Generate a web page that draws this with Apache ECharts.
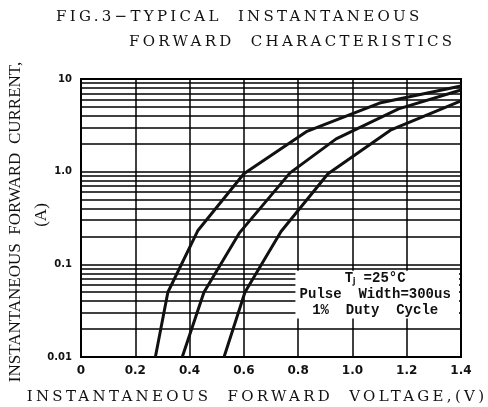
<!DOCTYPE html>
<html>
<head>
<meta charset="utf-8">
<script src="https://cdn.jsdelivr.net/npm/echarts@6/dist/echarts.min.js"></script>
<style>
  html, body { margin: 0; padding: 0; background: #fff; }
  #chart { width: 488px; height: 407px; }
</style>
</head>
<body>
<div id="chart"></div>
<script>
// curve data: [voltage (V), current (A)]
const curveA = [[0.274, 0.01], [0.32, 0.05], [0.43, 0.23], [0.6, 0.95], [0.83, 2.7], [1.1, 5.5], [1.4, 8.4]];
const curveB = [[0.373, 0.01], [0.453, 0.05], [0.583, 0.217], [0.77, 0.97], [0.94, 2.26], [1.17, 4.76], [1.4, 7.6]];
const curveC = [[0.527, 0.01], [0.604, 0.05], [0.737, 0.226], [0.91, 0.95], [1.14, 2.8], [1.4, 5.8]];

const xTickLabels = ['0', '0.2', '0.4', '0.6', '0.8', '1.0', '1.2', '1.4'];
const yTickValues = [0.01, 0.1, 1, 10];
const yTickLabels = ['0.01', '0.1', '1.0', '10'];
const decades = [0.01, 0.1, 1];
const minorSteps = [2, 3, 4, 5, 6, 7, 8, 9];
const yNameLines = ['INSTANTANEOUS  FORWARD  CURRENT,', '(A)'];
const noteLines = ['T\u2C7C =25\u00B0C', 'Pulse  Width=300us', '1%  Duty  Cycle'];

// the old figure uses widely spaced serif lettering for title and x name
function setSpacing(ctx, s) {
  const f = ctx.font;
  ctx.letterSpacing = s;
  ctx.font = '10px sans-serif';
  ctx.font = f;
}
const origFillText = CanvasRenderingContext2D.prototype.fillText;
CanvasRenderingContext2D.prototype.fillText = function (t, x, y, w) {
  const wide = this.font.indexOf('DejaVu Serif') >= 0;
  setSpacing(this, wide ? '3.3px' : '0px');
  origFillText.call(this, t, x, y, w);
  if (wide) setSpacing(this, '0px');
};

const chart = echarts.init(document.getElementById('chart'));

// minor horizontal grid lines at 2..9 of every decade
const minorLines = [];
decades.forEach(d => minorSteps.forEach(m => minorLines.push({ yAxis: +(d * m).toPrecision(3) })));

const curveStyle = { color: '#111', width: 3 };
function curve(data) {
  return { type: 'line', data: data, symbol: 'none', lineStyle: curveStyle, silent: true, z: 5 };
}

const titleFont = { fontFamily: 'DejaVu Serif', fontSize: 15, fontWeight: 'normal', color: '#111' };

const option = {
  animation: false,
  backgroundColor: '#fff',
  grid: {
    left: 81, right: 27, top: 79, bottom: 50, outerBoundsMode: 'none', containLabel: false,
    show: true, borderColor: '#000', borderWidth: 2
  },
  title: [
    { text: 'FIG.3\u2212TYPICAL  INSTANTANEOUS', left: 51, top: 5, textStyle: titleFont },
    { text: 'FORWARD  CHARACTERISTICS', left: 124, top: 30, textStyle: titleFont }
  ],
  xAxis: {
    type: 'value', min: 0, max: 1.4, interval: 0.2,
    axisLine: { lineStyle: { color: '#000', width: 2 } },
    axisTick: { show: false },
    splitLine: { show: true, lineStyle: { color: '#000', width: 1.5 } },
    axisLabel: {
      margin: 8, color: '#111', fontFamily: 'DejaVu Sans', fontWeight: 'bold', fontSize: 12,
      formatter: v => xTickLabels[Math.round(v / 0.2)]
    },
    name: 'INSTANTANEOUS  FORWARD  VOLTAGE,(V)', nameLocation: 'middle', nameGap: 33,
    nameTextStyle: { fontFamily: 'DejaVu Serif', fontSize: 15, color: '#111', padding: [0, 28, 0, 0] }
  },
  yAxis: {
    type: 'log', logBase: 10, min: 0.01, max: 10,
    axisLine: { show: true, lineStyle: { color: '#000', width: 2 } },
    axisTick: { show: false },
    splitLine: { show: true, lineStyle: { color: '#000', width: 1.5 } },
    minorSplitLine: { show: false },
    axisLabel: {
      margin: 9, color: '#111', fontFamily: 'DejaVu Sans', fontWeight: 'bold', fontSize: 10,
      formatter: v => {
        const i = yTickValues.findIndex(t => Math.abs(t - v) / t < 1e-6);
        return i >= 0 ? yTickLabels[i] : '';
      }
    }
  },
  series: [
    {
      type: 'line', data: [], silent: true,
      markLine: {
        silent: true, symbol: 'none', label: { show: false },
        lineStyle: { color: '#000', width: 1.5, type: 'solid' },
        data: minorLines
      }
    },
    curve(curveA),
    curve(curveB),
    curve(curveC)
  ]
};
chart.setOption(option);

const graphics = [];
// y axis title, two rotated lines left of the axis
graphics.push({
  type: 'text', x: 16, y: 222, rotation: Math.PI / 2,
  style: { text: yNameLines[0], fill: '#111', font: '17px "Liberation Serif"', textAlign: 'center', textVerticalAlign: 'middle' }
});
graphics.push({
  type: 'text', x: 42, y: 215, rotation: Math.PI / 2,
  style: { text: yNameLines[1], fill: '#111', font: '17px "Liberation Serif"', textAlign: 'center', textVerticalAlign: 'middle' }
});

// note box sitting inside the plot, lower right
const p0 = chart.convertToPixel({ gridIndex: 0 }, [0.79, 0.085]);
const p1 = chart.convertToPixel({ gridIndex: 0 }, [1.4, 0.026]);
const cx = (p0[0] + p1[0]) / 2;
graphics.push({ type: 'rect', shape: { x: p0[0], y: p0[1], width: p1[0] - p0[0] - 2, height: p1[1] - p0[1] },
  style: { fill: '#fff' }, z: 10 });
noteLines.forEach((s, i) => graphics.push({
  type: 'text', z: 11, x: cx - 3, y: p0[1] + 8 + i * 16,
  style: { text: s, fill: '#111', font: 'bold 14px "Liberation Mono"', textAlign: 'center', textVerticalAlign: 'middle' }
}));
chart.setOption({ graphic: graphics });
</script>
</body>
</html>
